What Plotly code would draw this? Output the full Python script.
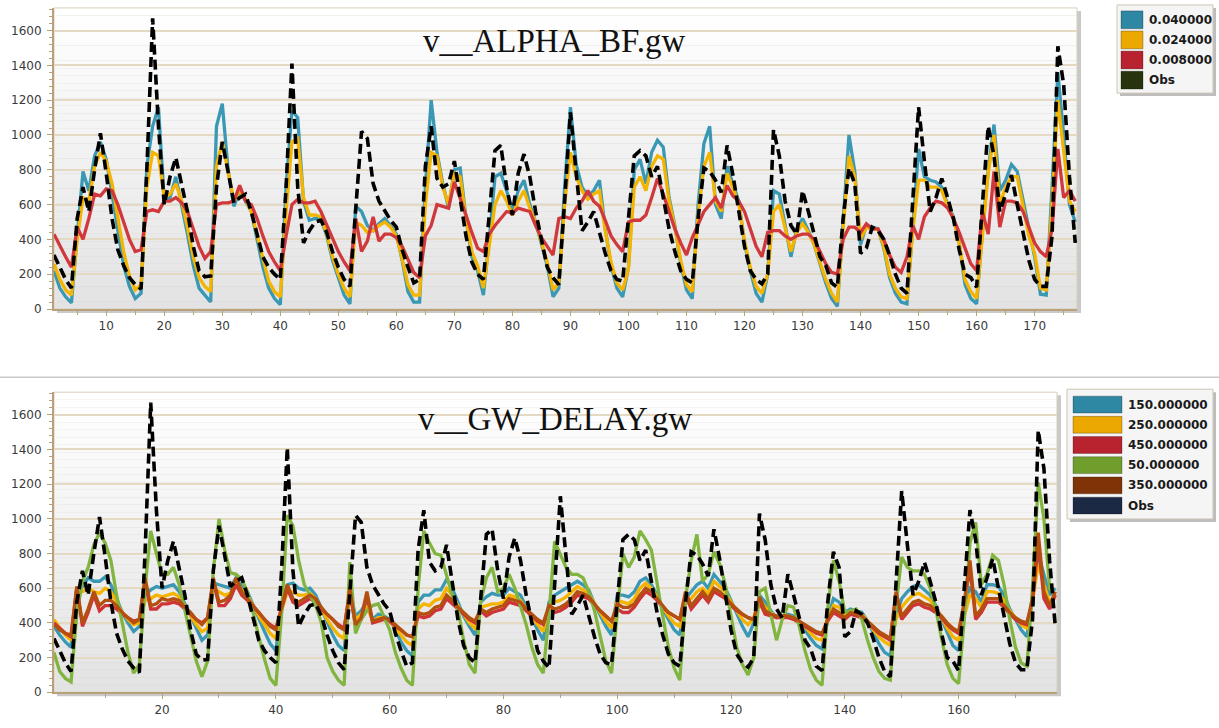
import plotly.graph_objects as go

W, H = 1219, 728

months = list(range(1, 178))

obs = [310, 240, 170, 120, 520, 700, 560, 800, 1010, 780, 520, 340, 250, 180, 140, 115, 800, 1670, 1050, 600,
       760, 870, 720, 560, 360, 220, 185, 190, 700, 960, 790, 610, 640, 660, 560, 420, 300, 240, 200, 170,
       700, 1410, 700, 380, 450, 500, 510, 440, 330, 240, 170, 130, 600, 1020, 980, 720, 620, 560, 510, 470,
       340, 240, 150, 170, 820, 1050, 750, 700, 720, 850, 650, 420, 270, 200, 170, 560, 910, 940, 700, 540,
       780, 890, 760, 560, 390, 240, 180, 140, 620, 1130, 780, 450, 500, 560, 440, 320, 220, 170, 160, 500,
       880, 910, 880, 760, 820, 640, 460, 330, 220, 170, 150, 520, 810, 790, 740, 670, 940, 770, 560, 360,
       220, 170, 145, 200, 1030, 880, 620, 480, 430, 680, 560, 420, 300, 250, 150, 125, 520, 810, 720, 320,
       350, 470, 450, 400, 310, 200, 120, 90, 600, 1160, 850, 560, 640, 750, 640, 520, 340, 200, 180, 125,
       600, 1050, 880, 560, 660, 770, 600, 430, 280, 170, 130, 130, 420, 1510, 1290, 760, 380]

# v__ALPHA_BF.gw runs
alpha_040 = [220, 120, 70, 35, 420, 790, 680, 880, 960, 860, 660, 450, 250, 130, 60, 90, 820, 1050, 1160, 620,
             640, 760, 600, 430, 250, 120, 80, 40, 1050, 1180, 800, 590, 680, 620, 560, 400, 240, 120, 60, 25,
             700, 1140, 1100, 620, 510, 520, 520, 420, 280, 180, 80, 30, 590, 560, 480, 450, 490, 520, 480, 430,
             280, 100, 40, 40, 700, 1200, 900, 720, 580, 800, 810, 520, 300, 220, 80, 400, 760, 780, 680, 560,
             680, 740, 600, 500, 380, 250, 70, 120, 700, 1160, 830, 700, 650, 680, 740, 460, 250, 120, 70, 240,
             800, 860, 720, 900, 970, 930, 640, 480, 260, 110, 60, 600, 950, 1050, 600, 520, 820, 720, 620, 380,
             220, 90, 40, 200, 680, 660, 480, 300, 460, 520, 450, 370, 260, 150, 60, 15, 500, 1000, 790, 370,
             480, 470, 460, 350, 180, 90, 40, 30, 500, 920, 760, 740, 730, 700, 600, 530, 380, 140, 60, 30,
             450, 800, 1060, 680, 740, 830, 790, 620, 450, 300, 85, 80, 700, 1360, 1000, 600, 500]

alpha_024 = [260, 170, 110, 80, 400, 640, 620, 820, 900, 850, 720, 520, 330, 190, 110, 140, 700, 900, 880, 640,
             660, 720, 620, 470, 300, 180, 130, 100, 820, 960, 800, 620, 680, 630, 560, 420, 280, 160, 100, 70,
             560, 960, 980, 640, 540, 540, 530, 430, 300, 200, 120, 70, 500, 480, 440, 450, 480, 500, 470, 420,
             290, 140, 80, 80, 600, 900, 880, 700, 600, 780, 760, 520, 330, 250, 120, 360, 600, 680, 620, 540,
             620, 680, 580, 500, 390, 270, 110, 150, 600, 900, 760, 680, 630, 660, 680, 450, 270, 150, 110, 230,
             700, 760, 680, 820, 880, 860, 620, 470, 280, 140, 100, 540, 820, 900, 620, 560, 780, 700, 610, 390,
             240, 130, 90, 200, 560, 600, 460, 330, 440, 490, 440, 370, 270, 170, 90, 40, 460, 880, 760, 400,
             470, 460, 460, 360, 200, 120, 70, 60, 450, 740, 740, 700, 700, 680, 590, 520, 380, 170, 100, 60,
             420, 780, 1000, 600, 700, 760, 760, 600, 420, 320, 120, 110, 600, 1200, 900, 620, 560]

alpha_008 = [430, 360, 300, 240, 470, 400, 520, 660, 650, 690, 680, 600, 500, 400, 330, 340, 560, 570, 560, 620,
             620, 640, 610, 560, 460, 360, 290, 330, 600, 610, 610, 620, 710, 620, 600, 520, 420, 330, 270, 220,
             420, 600, 630, 610, 610, 620, 560, 480, 410, 330, 270, 220, 520, 330, 390, 530, 390, 430, 430, 410,
             360, 290, 210, 180, 420, 480, 600, 590, 580, 730, 640, 540, 440, 350, 330, 430, 480, 520, 560, 550,
             580, 570, 560, 480, 410, 360, 310, 520, 530, 520, 580, 620, 680, 620, 590, 510, 420, 370, 330, 500,
             510, 510, 540, 640, 750, 660, 560, 460, 380, 310, 410, 480, 560, 600, 640, 580, 710, 650, 620, 560,
             460, 360, 300, 440, 450, 450, 420, 400, 420, 430, 430, 400, 330, 260, 210, 200, 400, 470, 470, 440,
             490, 460, 460, 400, 310, 240, 210, 300, 480, 400, 530, 580, 620, 610, 580, 520, 440, 350, 260, 220,
             560, 430, 790, 470, 620, 620, 610, 560, 470, 380, 330, 300, 460, 920, 640, 680, 620]

# v__GW_DELAY.gw runs
delay_150 = [380, 330, 290, 260, 600, 610, 660, 640, 640, 665, 620, 540, 460, 400, 350, 380, 560, 590, 610, 600,
             610, 620, 580, 510, 430, 360, 300, 330, 630, 620, 610, 600, 660, 610, 580, 500, 420, 350, 280, 240,
             480, 620, 630, 600, 590, 600, 560, 480, 400, 330, 270, 240, 580, 440, 470, 520, 420, 450, 440, 420,
             360, 290, 240, 210, 520, 560, 560, 590, 590, 650, 600, 520, 440, 380, 330, 520, 550, 570, 560, 560,
             600, 580, 560, 490, 420, 360, 300, 520, 560, 580, 600, 620, 640, 620, 590, 510, 440, 380, 330, 560,
             560, 550, 580, 640, 660, 620, 560, 480, 420, 360, 330, 540, 580, 620, 640, 600, 680, 640, 600, 530,
             450, 380, 320, 400, 560, 520, 470, 430, 440, 450, 440, 410, 360, 310, 270, 250, 420, 540, 520, 460,
             480, 470, 460, 410, 340, 280, 230, 210, 440, 540, 580, 610, 620, 590, 560, 500, 420, 340, 270, 240,
             460, 600, 580, 520, 620, 620, 610, 560, 480, 420, 360, 320, 560, 800, 680, 560, 600]

delay_250 = [420, 370, 330, 300, 570, 580, 600, 580, 570, 600, 580, 520, 460, 420, 390, 400, 530, 540, 560, 550,
             560, 570, 550, 500, 440, 390, 350, 370, 600, 580, 560, 570, 640, 590, 560, 500, 440, 390, 340, 310,
             470, 580, 580, 560, 560, 570, 540, 480, 420, 370, 330, 310, 560, 420, 450, 500, 410, 430, 430, 410,
             370, 330, 290, 270, 480, 510, 500, 530, 540, 600, 560, 500, 450, 400, 370, 490, 500, 510, 510, 520,
             560, 550, 530, 480, 430, 390, 350, 500, 520, 530, 550, 580, 610, 590, 570, 510, 460, 410, 370, 530,
             520, 510, 540, 600, 630, 600, 550, 490, 440, 400, 380, 520, 540, 580, 600, 570, 640, 610, 580, 520,
             470, 420, 390, 430, 540, 490, 460, 430, 440, 440, 430, 410, 380, 340, 310, 300, 420, 500, 490, 450,
             470, 460, 450, 410, 360, 320, 290, 270, 420, 490, 530, 560, 570, 550, 530, 490, 430, 370, 320, 300,
             440, 560, 540, 490, 580, 580, 570, 530, 470, 430, 390, 370, 530, 740, 620, 520, 560]

delay_450 = [400, 370, 340, 320, 600, 380, 460, 560, 470, 500, 500, 480, 450, 430, 410, 420, 640, 480, 480, 510,
             510, 520, 510, 480, 450, 420, 400, 430, 640, 500, 500, 540, 620, 560, 530, 490, 460, 420, 390, 370,
             480, 600, 520, 500, 520, 540, 520, 480, 450, 420, 390, 370, 580, 380, 420, 560, 400, 410, 420, 410,
             380, 360, 330, 320, 440, 430, 440, 470, 480, 540, 510, 480, 450, 420, 400, 470, 440, 460, 470, 480,
             520, 510, 500, 470, 440, 410, 390, 480, 460, 470, 490, 520, 560, 550, 540, 500, 470, 440, 410, 480,
             460, 460, 490, 540, 580, 560, 530, 490, 460, 440, 420, 560, 480, 520, 560, 520, 580, 560, 540, 500,
             470, 450, 430, 420, 520, 450, 440, 430, 430, 430, 420, 400, 380, 360, 340, 330, 410, 460, 440, 420,
             450, 440, 430, 400, 370, 340, 320, 300, 560, 420, 460, 500, 510, 490, 480, 460, 430, 390, 360, 340,
             500, 720, 420, 460, 520, 520, 520, 490, 450, 420, 400, 390, 520, 860, 540, 480, 560]

delay_050 = [230, 120, 80, 60, 450, 640, 720, 850, 920, 860, 760, 560, 400, 230, 110, 160, 600, 930, 800, 680,
             680, 720, 620, 480, 330, 180, 90, 180, 700, 1000, 820, 690, 680, 650, 580, 460, 320, 190, 80, 40,
             450, 1020, 960, 760, 620, 560, 500, 400, 200, 120, 70, 40, 750, 340, 420, 470, 500, 510, 440, 360,
             230, 140, 70, 40, 600, 930, 860, 800, 790, 680, 560, 480, 300, 160, 110, 520, 660, 720, 580, 600,
             680, 600, 500, 390, 260, 160, 110, 450, 870, 800, 720, 680, 680, 660, 580, 470, 320, 180, 110, 480,
             800, 720, 780, 930, 880, 820, 620, 440, 260, 140, 70, 540, 760, 910, 640, 680, 810, 740, 620, 440,
             260, 160, 100, 200, 580, 600, 440, 300, 420, 500, 490, 380, 240, 130, 70, 40, 480, 760, 640, 460,
             470, 480, 420, 300, 200, 120, 80, 70, 500, 780, 720, 700, 700, 680, 600, 480, 310, 160, 80, 50,
             420, 860, 980, 620, 680, 790, 760, 620, 420, 260, 170, 150, 600, 1210, 1000, 600, 560]

delay_350 = [390, 360, 340, 330, 610, 400, 480, 580, 500, 530, 530, 500, 460, 430, 400, 420, 660, 500, 510, 540,
             530, 540, 530, 490, 460, 420, 390, 430, 660, 520, 530, 560, 660, 580, 540, 500, 460, 420, 380, 360,
             500, 620, 540, 520, 540, 560, 540, 490, 450, 420, 380, 360, 600, 390, 430, 580, 410, 420, 430, 420,
             390, 360, 330, 320, 460, 450, 460, 490, 500, 560, 530, 490, 460, 430, 410, 480, 460, 480, 490, 500,
             540, 530, 520, 480, 450, 420, 400, 500, 480, 490, 510, 540, 580, 570, 550, 510, 470, 440, 410, 510,
             490, 490, 510, 560, 600, 580, 540, 500, 460, 440, 420, 580, 500, 540, 580, 540, 600, 580, 550, 510,
             480, 450, 430, 420, 550, 470, 450, 440, 440, 440, 430, 410, 390, 370, 350, 340, 420, 480, 460, 430,
             460, 450, 440, 410, 380, 350, 330, 310, 580, 440, 480, 520, 530, 510, 500, 470, 440, 400, 370, 350,
             520, 760, 440, 480, 540, 540, 540, 500, 460, 430, 410, 400, 540, 920, 580, 500, 580]

top_series = [("0.040000", alpha_040, "#3a98b4"),
              ("0.024000", alpha_024, "#f4b400"),
              ("0.008000", alpha_008, "#d1383c")]
bottom_series = [("150.000000", delay_150, "#3a98b4"),
                 ("250.000000", delay_250, "#f4b400"),
                 ("450.000000", delay_450, "#cf3337"),
                 ("50.000000", delay_050, "#82b440"),
                 ("350.000000", delay_350, "#b4500f")]

top_legend = [("0.040000", "#2e87a3"), ("0.024000", "#eba800"),
              ("0.008000", "#b8232f"), ("Obs", "#26330d")]
bottom_legend = [("150.000000", "#2e87a3"), ("250.000000", "#eba800"),
                 ("450.000000", "#b8232f"), ("50.000000", "#6f9e2c"),
                 ("350.000000", "#7f3306"), ("Obs", "#1c2944")]

LINE_W = 3.3
OBS_LINE = dict(color="black", width=3.6, dash="10px,5px")


def px(x):
    return x / W


def py(y):
    return 1 - y / H


fig = go.Figure()

for name, vals, col in top_series:
    fig.add_trace(go.Scatter(x=months, y=vals, name=name, mode="lines",
                             line=dict(color=col, width=LINE_W), xaxis="x", yaxis="y"))
fig.add_trace(go.Scatter(x=months, y=obs, name="Obs", mode="lines",
                         line=OBS_LINE, xaxis="x", yaxis="y"))

for name, vals, col in bottom_series:
    fig.add_trace(go.Scatter(x=months, y=vals, name=name, mode="lines",
                             line=dict(color=col, width=LINE_W), xaxis="x2", yaxis="y2"))
fig.add_trace(go.Scatter(x=months, y=obs, name="Obs", mode="lines",
                         line=OBS_LINE, xaxis="x2", yaxis="y2"))

AX = "#b9a27a"
GRID = "#e4d9c3"
TICKFONT = dict(family="DejaVu Sans", size=12, color="#3a3a3a")

# plot-area rectangles in pixels: (left, top, right, bottom)
top_box = (54, 8, 1077, 312)
bot_box = (54, 396, 1057, 699)


def yaxis_cfg(box):
    return dict(domain=[py(box[3]), py(box[1])], range=[0, 1730], dtick=200, tick0=0,
                showgrid=True, gridcolor=GRID, gridwidth=1.5, zeroline=False,
                showline=True, linecolor=AX, linewidth=2, ticks="outside", ticklen=5,
                tickcolor=AX, tickfont=TICKFONT, ticklabelstandoff=3,
                minor=dict(dtick=40, ticks="outside", ticklen=3, tickcolor=AX, showgrid=False))


def xaxis_cfg(box, anchor, major, minor):
    return dict(domain=[px(box[0]), px(box[2])], range=[1, 177.3], anchor=anchor,
                tick0=0, dtick=major, showgrid=False, zeroline=False,
                showline=True, linecolor=AX, linewidth=2, ticks="outside", ticklen=5,
                tickcolor=AX, tickfont=TICKFONT,
                minor=dict(dtick=minor, ticks="outside", ticklen=4, tickcolor=AX, showgrid=False))


shapes = []
annotations = []


def panel_decor(box, xref, yref):
    l, t, r, b = box
    # drop shadow on the right and bottom of the frame
    shapes.append(dict(type="rect", xref="paper", yref="paper", layer="below",
                       x0=px(l + 3), x1=px(r + 4), y0=py(b + 4), y1=py(t + 3),
                       fillcolor="#c9c9c9", line=dict(width=0)))
    # vertical white-to-grey background
    n = 40
    for i in range(n):
        f = i / (n - 1)
        g = int(round(255 - 28 * f))
        shapes.append(dict(type="rect", xref=xref + " domain", yref=yref + " domain", layer="below",
                           x0=0, x1=1, y0=1 - (i + 1) / n, y1=1 - i / n,
                           fillcolor=f"rgb({g},{g},{g})", line=dict(width=0)))
    shapes.append(dict(type="rect", xref=xref + " domain", yref=yref + " domain", layer="below",
                       x0=0, x1=1, y0=0, y1=1, fillcolor="rgba(0,0,0,0)",
                       line=dict(color="#d9cfbb", width=1)))


def legend_decor(box, items, sw_left, sw_right, text_x, row0, pitch, sw_h):
    l, t, r, b = box
    shapes.append(dict(type="rect", xref="paper", yref="paper",
                       x0=px(l + 3), x1=px(r + 3), y0=py(b + 3), y1=py(t + 3),
                       fillcolor="#bdbdbd", line=dict(width=0)))
    shapes.append(dict(type="rect", xref="paper", yref="paper",
                       x0=px(l), x1=px(r), y0=py(b), y1=py(t),
                       fillcolor="#f5f5f5", line=dict(color="#cfc7b6", width=1)))
    for i, (label, col) in enumerate(items):
        y0 = row0 + i * pitch
        shapes.append(dict(type="rect", xref="paper", yref="paper",
                           x0=px(sw_left), x1=px(sw_right), y0=py(y0 + sw_h), y1=py(y0),
                           fillcolor=col, line=dict(color="rgba(0,0,0,0.25)", width=1)))
        annotations.append(dict(xref="paper", yref="paper", x=px(text_x), y=py(y0 + sw_h / 2),
                                text=f"<b>{label}</b>", showarrow=False, xanchor="left",
                                yanchor="middle",
                                font=dict(family="DejaVu Sans", size=12, color="#1a1a1a")))


panel_decor(top_box, "x", "y")
panel_decor(bot_box, "x2", "y2")

# separator between the two panels
shapes.append(dict(type="line", xref="paper", yref="paper", x0=0, x1=1,
                   y0=py(381), y1=py(381), line=dict(color="#c8c8c8", width=1.5)))

legend_decor((1117, 5, 1213, 94), top_legend, 1121, 1143, 1147, 11, 20.3, 18)
legend_decor((1067, 393, 1213, 524), bottom_legend, 1073, 1122, 1126, 400, 20.4, 17)

annotations.append(dict(xref="paper", yref="paper", x=px(554), y=py(41), text="v__ALPHA_BF.gw",
                        showarrow=False, xanchor="center", yanchor="middle",
                        font=dict(family="Liberation Serif", size=33, color="#111111")))
annotations.append(dict(xref="paper", yref="paper", x=px(555), y=py(423), text="v__GW_DELAY.gw",
                        showarrow=False, xanchor="center", yanchor="middle",
                        font=dict(family="Liberation Serif", size=33, color="#111111")))

fig.update_layout(
    width=W, height=H, margin=dict(l=0, r=0, t=0, b=0),
    paper_bgcolor="white", plot_bgcolor="rgba(0,0,0,0)",
    showlegend=False,
    xaxis=xaxis_cfg(top_box, "y", 10, 5),
    yaxis=yaxis_cfg(top_box),
    xaxis2=xaxis_cfg(bot_box, "y2", 20, 10),
    yaxis2=dict(yaxis_cfg(bot_box), anchor="x2"),
    shapes=shapes, annotations=annotations,
)
fig.update_layout(yaxis=dict(anchor="x"))

fig.write_html("out.html")
